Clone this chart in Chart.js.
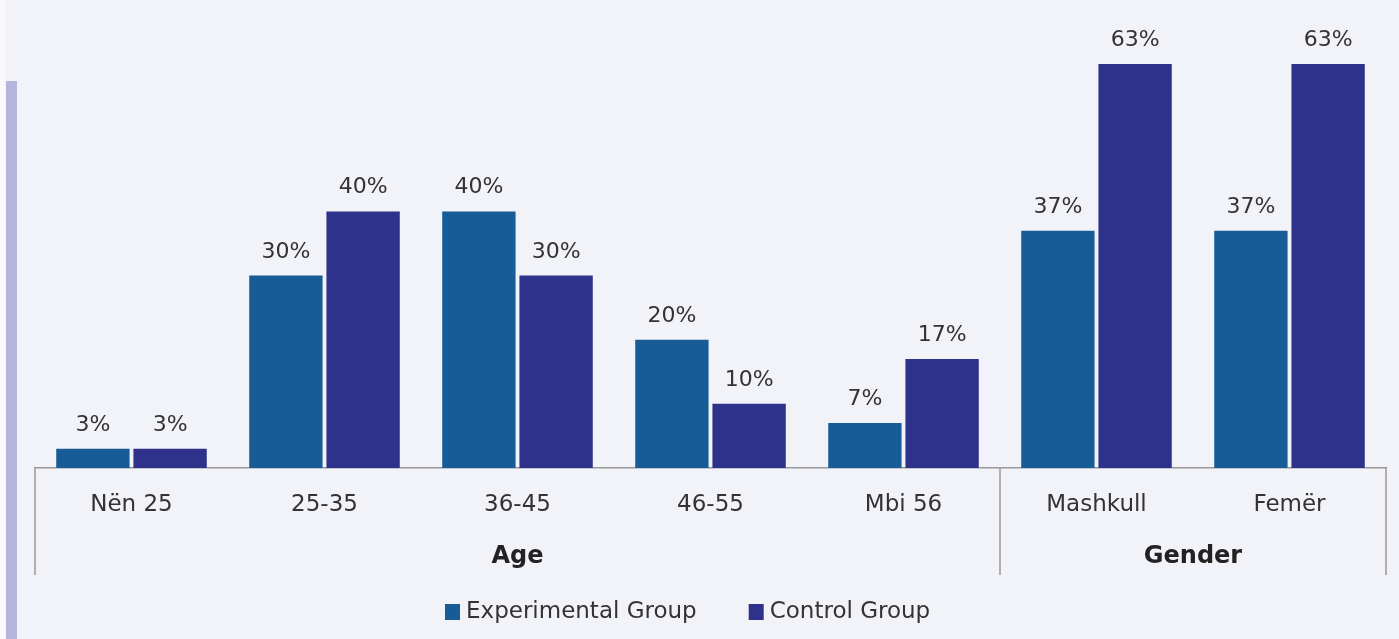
<!DOCTYPE html>
<html>
<head>
<meta charset="utf-8">
<script src="https://cdn.jsdelivr.net/npm/chart.js@4.4.0/dist/chart.umd.min.js"></script>
<style>
  html,body{margin:0;padding:0;width:1399px;height:639px;overflow:hidden;background:#f2f3f8;}
  #edge{position:absolute;left:0;top:0;width:5px;height:639px;background:#f9f9fc;}
  #bar{position:absolute;left:6px;top:81px;width:11px;height:558px;background:#b3b5db;}
  #c{position:absolute;left:0;top:0;}
</style>
</head>
<body>
<div id="edge"></div>
<div id="bar"></div>
<canvas id="c" width="1399" height="639"></canvas>
<script>
const categories = ['Nën 25','25-35','36-45','46-55','Mbi 56','Mashkull','Femër'];
const experimental = [3,30,40,20,7,37,37];
const control = [3,40,30,10,17,63,63];
const groups = [{label:'Age', from:0, to:4}, {label:'Gender', from:5, to:6}];
const seriesNames = ['Experimental Group','Control Group'];
const colors = ['#175c97','#2e328a'];

const FONT = '"DejaVu Sans", sans-serif';

// value labels, group axis and legend
const extras = {
  id:'extras',
  afterDatasetsDraw(chart){
    const ctx = chart.ctx;
    ctx.save();
    ctx.font = '22px ' + FONT;
    ctx.fillStyle = '#333';
    ctx.textAlign = 'center';
    ctx.textBaseline = 'alphabetic';
    chart.data.datasets.forEach((ds,i)=>{
      chart.getDatasetMeta(i).data.forEach((el,j)=>{
        ctx.fillText(ds.data[j] + '%', el.x, el.y - 18);
      });
    });
    ctx.restore();
  },
  afterDraw(chart){
    const ctx = chart.ctx, x = chart.scales.x, area = chart.chartArea;
    const half = (x.getPixelForValue(1) - x.getPixelForValue(0)) / 2;
    ctx.save();
    ctx.strokeStyle = '#9a9a9a';
    ctx.lineWidth = 1.5;
    const seps = [area.left];
    groups.forEach(g=>seps.push(x.getPixelForValue(g.to) + half));
    seps[seps.length-1] = area.right;
    seps.forEach(px=>{
      ctx.beginPath(); ctx.moveTo(px, area.bottom); ctx.lineTo(px, 575); ctx.stroke();
    });
    ctx.font = 'bold 24px ' + FONT;
    ctx.fillStyle = '#222';
    ctx.textAlign = 'center';
    ctx.textBaseline = 'middle';
    groups.forEach(g=>{
      const mid = (x.getPixelForValue(g.from) + x.getPixelForValue(g.to)) / 2;
      ctx.fillText(g.label, mid, 557);
    });
    // legend
    ctx.font = '23px ' + FONT;
    ctx.textAlign = 'left';
    let lx = 445;
    seriesNames.forEach((n,i)=>{
      ctx.fillStyle = colors[i];
      ctx.fillRect(lx, 604, 15, 16);
      ctx.fillStyle = '#333';
      ctx.fillText(n, lx + 21, 612);
      lx += 21 + ctx.measureText(n).width + 52;
    });
    ctx.restore();
  }
};

new Chart(document.getElementById('c'), {
  type:'bar',
  data:{
    labels: categories,
    datasets:[
      {label:seriesNames[0], data:experimental, backgroundColor:colors[0], barPercentage:0.95, categoryPercentage:0.8},
      {label:seriesNames[1], data:control, backgroundColor:colors[1], barPercentage:0.95, categoryPercentage:0.8}
    ]
  },
  options:{
    responsive:false,
    animation:false,
    layout:{padding:{left:35, right:13, top:64, bottom:0}},
    plugins:{legend:{display:false}, tooltip:{enabled:false}},
    scales:{
      y:{display:false, min:0, max:63},
      x:{
        grid:{display:false, drawTicks:false},
        border:{display:true, color:'#9a9a9a', width:1.5},
        ticks:{font:{size:23, family:FONT}, color:'#333', padding:23},
        afterFit(s){ s.height = 171; }
      }
    }
  },
  plugins:[extras]
});
</script>
</body>
</html>
